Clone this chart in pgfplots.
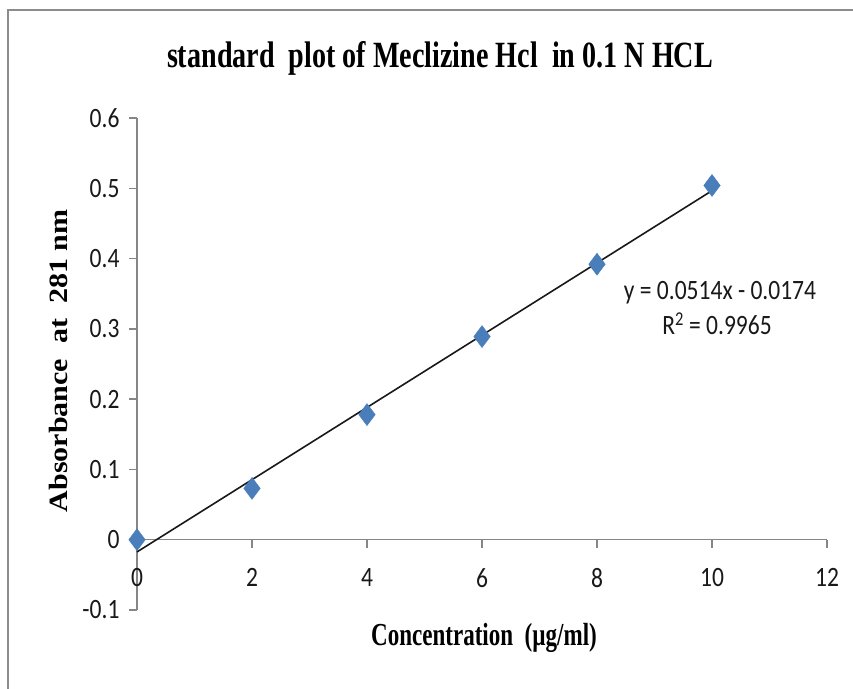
\documentclass[border=0pt]{standalone}
\usepackage{pgfplots}
\pgfplotsset{compat=1.18}
\usepackage{fontspec}
\setmainfont{Liberation Serif}
\newfontfamily\calib{Carlito}[FakeStretch=0.84]
\newfontfamily\titlefont{Liberation Serif}[FakeStretch=0.76]
\newfontfamily\labfont{Liberation Serif}[FakeStretch=0.72]
\definecolor{markblue}{RGB}{74,126,187}
\definecolor{axgray}{RGB}{134,134,134}
\definecolor{framegray}{RGB}{140,140,140}
\begin{document}
\begin{tikzpicture}
\useasboundingbox (0pt,0pt) rectangle (853pt,688pt);
\fill[white] (0pt,0pt) rectangle (853pt,688pt);
\draw[framegray, line width=1.6pt] (8pt,-10pt) -- (8pt,678pt) -- (870pt,678pt);
\begin{axis}[
  scale only axis,
  width=690pt, height=492pt,
  at={(137pt,78pt)}, anchor=south west,
  xmin=0, xmax=12, ymin=-0.1, ymax=0.6,
  axis x line=middle, axis y line=left,
  axis line style={axgray, line width=1.3pt, -},
  tick align=outside,
  major tick length=8pt,
  tick style={axgray, line width=1.3pt},
  xtick={0,2,4,6,8,10,12},
  xticklabels={0,2,4,6,8,10,12},
  ytick={-0.1,0,0.1,0.2,0.3,0.4,0.5,0.6},
  yticklabels={{-0.1},{0},{0.1},{0.2},{0.3},{0.4},{0.5},{0.6}},
  hide obscured x ticks=false, hide obscured y ticks=false,
  ticklabel style={font=\calib\fontsize{28}{32}\selectfont, text=black!90},
  xticklabel style={anchor=center, yshift=-30pt},
  yticklabel style={anchor=east, xshift=-6pt},
  clip=false,
]
\addplot[black!90, line width=1.6pt] coordinates {(0,-0.0174) (10,0.4966)};
\addplot[only marks, mark=diamond*, mark size=11pt, mark options={fill=markblue, draw=markblue}] coordinates {
(0,0) (2,0.073) (4,0.178) (6,0.289) (8,0.392) (10,0.504)
};
\end{axis}
\node[anchor=base, font=\titlefont\bfseries\fontsize{37}{40}\selectfont] at (440pt,620pt) {standard\ \ plot\ of Meclizine Hcl\ \ in 0.1 N HCL};
\node[anchor=base, font=\labfont\bfseries\fontsize{32}{36}\selectfont] at (484pt,43pt) {Concentration\ \ (µg/ml)};
\node[rotate=90, anchor=center] at (58pt,327pt) {\scalebox{1}[0.88]{\bfseries\fontsize{30}{34}\selectfont Absorbance\ \ at\ \ 281 nm}};
\node[anchor=base, font=\calib\fontsize{28}{32}\selectfont, text=black!90] at (720pt,388pt) {y = 0.0514x - 0.0174};
\node[anchor=base, font=\calib\fontsize{28}{32}\selectfont, text=black!90] at (717pt,353pt) {R\textsuperscript{2} = 0.9965};
\end{tikzpicture}
\end{document}
